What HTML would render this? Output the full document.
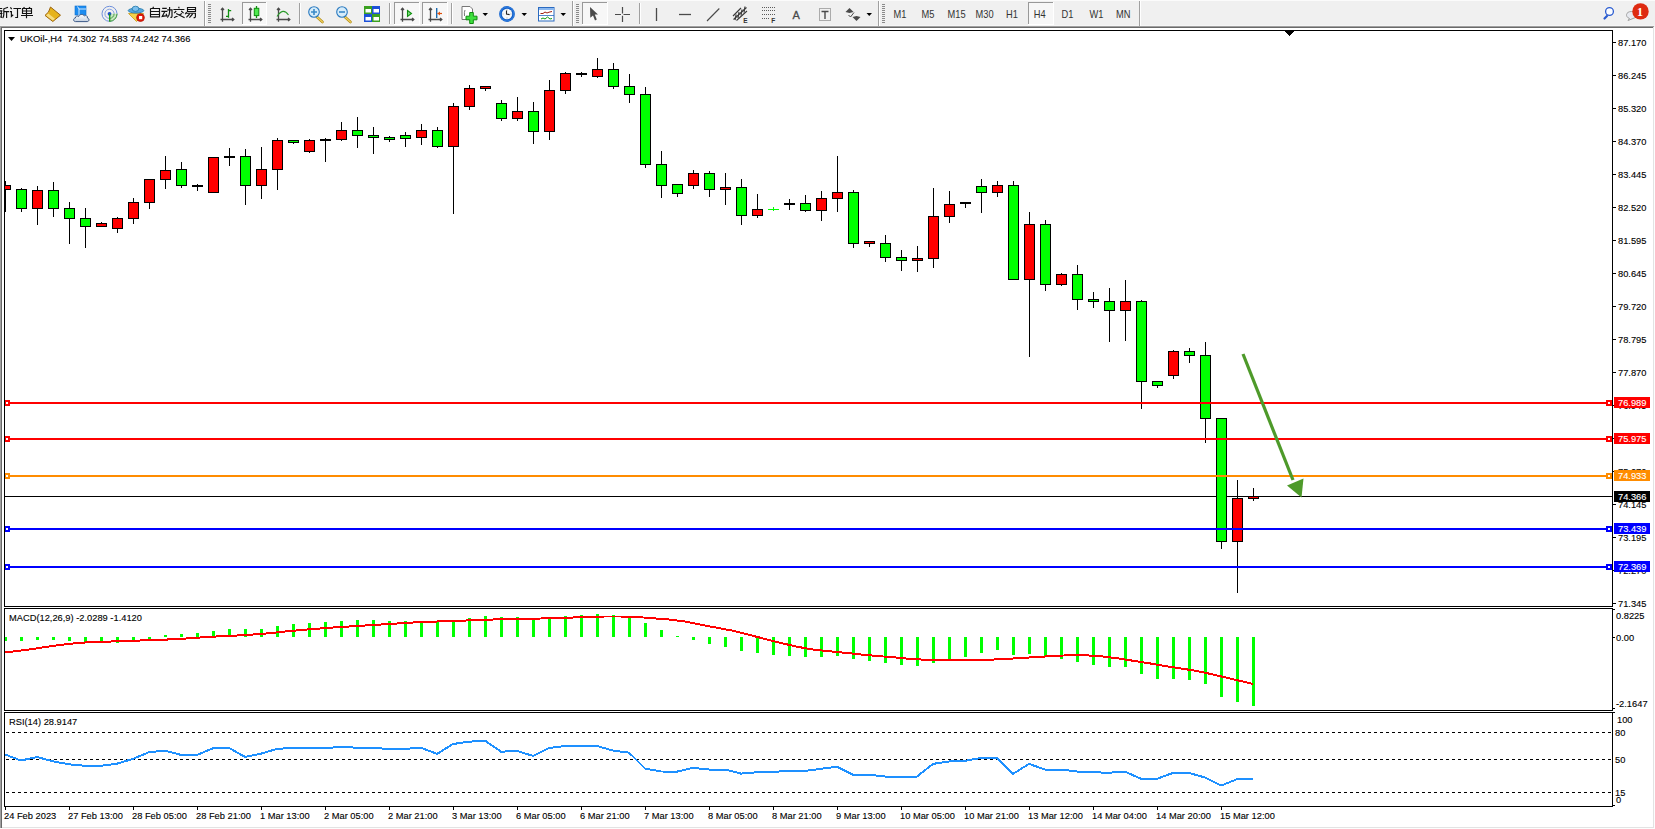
<!DOCTYPE html><html><head><meta charset="utf-8"><style>
html,body{margin:0;padding:0;width:1655px;height:829px;overflow:hidden;background:#f0f0f0;}
svg{display:block;position:absolute;left:0;top:0;}
text{font-family:"Liberation Sans",sans-serif;}
.ax{font-size:9.7px;fill:#000;stroke:#000;stroke-width:0.12px;}
</style></head><body>
<svg width="1655" height="829" viewBox="0 0 1655 829" shape-rendering="crispEdges">
<rect x="0" y="0" width="1655" height="26" fill="#f0f0f0"/>
<rect x="0" y="0" width="1655" height="1" fill="#fbfbfb"/>
<rect x="0" y="25" width="1655" height="1" fill="#f5f5f5"/>
<rect x="0" y="26" width="1654" height="1" fill="#a0a0a0"/>
<rect x="0" y="27" width="1653" height="1" fill="#696969"/>
<rect x="2" y="28" width="1651" height="799" fill="#ffffff"/>
<rect x="0" y="26" width="1" height="803" fill="#a0a0a0"/>
<rect x="1" y="27" width="1" height="801" fill="#696969"/>
<rect x="1653" y="27" width="1" height="801" fill="#e3e3e3"/>
<rect x="2" y="827" width="1652" height="1" fill="#e3e3e3"/>
<rect x="0" y="828" width="1655" height="1" fill="#fdfdfd"/>
<rect x="1654" y="27" width="1" height="802" fill="#fdfdfd"/>
<rect x="4" y="30" width="1609" height="1" fill="#000"/>
<rect x="4" y="606" width="1609" height="1" fill="#000"/>
<rect x="4" y="30" width="1" height="577" fill="#000"/>
<rect x="1612" y="30" width="1" height="577" fill="#000"/>
<defs><clipPath id="cm"><rect x="5" y="31" width="1607" height="575"/></clipPath>
<clipPath id="cmacd"><rect x="5" y="609" width="1607" height="101"/></clipPath>
<clipPath id="crsi"><rect x="5" y="713" width="1607" height="93"/></clipPath></defs>
<g clip-path="url(#cm)">
<rect x="5" y="496" width="1607" height="1" fill="#000"/>
<rect x="5" y="181" width="1" height="31"/><rect x="0" y="185" width="11" height="5"/><rect x="1" y="186" width="9" height="3" fill="#ff0000"/><rect x="21" y="188" width="1" height="24"/><rect x="16" y="189" width="11" height="20"/><rect x="17" y="190" width="9" height="18" fill="#00ff00"/><rect x="37" y="186" width="1" height="39"/><rect x="32" y="190" width="11" height="19"/><rect x="33" y="191" width="9" height="17" fill="#ff0000"/><rect x="53" y="182" width="1" height="35"/><rect x="48" y="190" width="11" height="19"/><rect x="49" y="191" width="9" height="17" fill="#00ff00"/><rect x="69" y="202" width="1" height="42"/><rect x="64" y="208" width="11" height="11"/><rect x="65" y="209" width="9" height="9" fill="#00ff00"/><rect x="85" y="208" width="1" height="40"/><rect x="80" y="218" width="11" height="9"/><rect x="81" y="219" width="9" height="7" fill="#00ff00"/><rect x="101" y="222" width="1" height="5"/><rect x="96" y="223" width="11" height="4"/><rect x="97" y="224" width="9" height="2" fill="#ff0000"/><rect x="117" y="217" width="1" height="16"/><rect x="112" y="218" width="11" height="11"/><rect x="113" y="219" width="9" height="9" fill="#ff0000"/><rect x="133" y="198" width="1" height="26"/><rect x="128" y="202" width="11" height="17"/><rect x="129" y="203" width="9" height="15" fill="#ff0000"/><rect x="149" y="179" width="1" height="30"/><rect x="144" y="179" width="11" height="24"/><rect x="145" y="180" width="9" height="22" fill="#ff0000"/><rect x="165" y="156" width="1" height="33"/><rect x="160" y="170" width="11" height="10"/><rect x="161" y="171" width="9" height="8" fill="#ff0000"/><rect x="181" y="162" width="1" height="26"/><rect x="176" y="169" width="11" height="17"/><rect x="177" y="170" width="9" height="15" fill="#00ff00"/><rect x="197" y="184" width="1" height="7"/><rect x="192" y="185" width="11" height="2"/><rect x="213" y="157" width="1" height="36"/><rect x="208" y="157" width="11" height="36"/><rect x="209" y="158" width="9" height="34" fill="#ff0000"/><rect x="229" y="148" width="1" height="18"/><rect x="224" y="156" width="11" height="2"/><rect x="245" y="149" width="1" height="56"/><rect x="240" y="156" width="11" height="30"/><rect x="241" y="157" width="9" height="28" fill="#00ff00"/><rect x="261" y="147" width="1" height="52"/><rect x="256" y="169" width="11" height="17"/><rect x="257" y="170" width="9" height="15" fill="#ff0000"/><rect x="277" y="138" width="1" height="52"/><rect x="272" y="140" width="11" height="30"/><rect x="273" y="141" width="9" height="28" fill="#ff0000"/><rect x="293" y="140" width="1" height="4"/><rect x="288" y="140" width="11" height="3"/><rect x="289" y="141" width="9" height="1" fill="#00ff00"/><rect x="309" y="139" width="1" height="14"/><rect x="304" y="140" width="11" height="12"/><rect x="305" y="141" width="9" height="10" fill="#ff0000"/><rect x="325" y="138" width="1" height="24"/><rect x="320" y="139" width="11" height="2"/><rect x="341" y="122" width="1" height="19"/><rect x="336" y="130" width="11" height="10"/><rect x="337" y="131" width="9" height="8" fill="#ff0000"/><rect x="357" y="117" width="1" height="31"/><rect x="352" y="130" width="11" height="6"/><rect x="353" y="131" width="9" height="4" fill="#00ff00"/><rect x="373" y="127" width="1" height="27"/><rect x="368" y="135" width="11" height="3"/><rect x="369" y="136" width="9" height="1" fill="#00ff00"/><rect x="389" y="136" width="1" height="6"/><rect x="384" y="137" width="11" height="3"/><rect x="385" y="138" width="9" height="1" fill="#00ff00"/><rect x="405" y="132" width="1" height="15"/><rect x="400" y="135" width="11" height="4"/><rect x="401" y="136" width="9" height="2" fill="#00ff00"/><rect x="421" y="124" width="1" height="21"/><rect x="416" y="130" width="11" height="8"/><rect x="417" y="131" width="9" height="6" fill="#ff0000"/><rect x="437" y="127" width="1" height="21"/><rect x="432" y="130" width="11" height="17"/><rect x="433" y="131" width="9" height="15" fill="#00ff00"/><rect x="453" y="103" width="1" height="111"/><rect x="448" y="106" width="11" height="41"/><rect x="449" y="107" width="9" height="39" fill="#ff0000"/><rect x="469" y="85" width="1" height="25"/><rect x="464" y="88" width="11" height="19"/><rect x="465" y="89" width="9" height="17" fill="#ff0000"/><rect x="485" y="86" width="1" height="5"/><rect x="480" y="86" width="11" height="3"/><rect x="481" y="87" width="9" height="1" fill="#ff0000"/><rect x="501" y="100" width="1" height="21"/><rect x="496" y="103" width="11" height="16"/><rect x="497" y="104" width="9" height="14" fill="#00ff00"/><rect x="517" y="97" width="1" height="24"/><rect x="512" y="111" width="11" height="8"/><rect x="513" y="112" width="9" height="6" fill="#ff0000"/><rect x="533" y="102" width="1" height="42"/><rect x="528" y="111" width="11" height="21"/><rect x="529" y="112" width="9" height="19" fill="#00ff00"/><rect x="549" y="80" width="1" height="60"/><rect x="544" y="90" width="11" height="42"/><rect x="545" y="91" width="9" height="40" fill="#ff0000"/><rect x="565" y="72" width="1" height="22"/><rect x="560" y="73" width="11" height="18"/><rect x="561" y="74" width="9" height="16" fill="#ff0000"/><rect x="581" y="72" width="1" height="5"/><rect x="576" y="73" width="11" height="2"/><rect x="597" y="58" width="1" height="20"/><rect x="592" y="69" width="11" height="8"/><rect x="593" y="70" width="9" height="6" fill="#ff0000"/><rect x="613" y="63" width="1" height="26"/><rect x="608" y="69" width="11" height="18"/><rect x="609" y="70" width="9" height="16" fill="#00ff00"/><rect x="629" y="74" width="1" height="29"/><rect x="624" y="86" width="11" height="9"/><rect x="625" y="87" width="9" height="7" fill="#00ff00"/><rect x="645" y="87" width="1" height="81"/><rect x="640" y="94" width="11" height="71"/><rect x="641" y="95" width="9" height="69" fill="#00ff00"/><rect x="661" y="151" width="1" height="47"/><rect x="656" y="164" width="11" height="22"/><rect x="657" y="165" width="9" height="20" fill="#00ff00"/><rect x="677" y="184" width="1" height="13"/><rect x="672" y="184" width="11" height="10"/><rect x="673" y="185" width="9" height="8" fill="#00ff00"/><rect x="693" y="170" width="1" height="19"/><rect x="688" y="173" width="11" height="13"/><rect x="689" y="174" width="9" height="11" fill="#ff0000"/><rect x="709" y="171" width="1" height="26"/><rect x="704" y="173" width="11" height="17"/><rect x="705" y="174" width="9" height="15" fill="#00ff00"/><rect x="725" y="173" width="1" height="32"/><rect x="720" y="187" width="11" height="3"/><rect x="721" y="188" width="9" height="1" fill="#ff0000"/><rect x="741" y="179" width="1" height="46"/><rect x="736" y="187" width="11" height="29"/><rect x="737" y="188" width="9" height="27" fill="#00ff00"/><rect x="757" y="194" width="1" height="24"/><rect x="752" y="209" width="11" height="7"/><rect x="753" y="210" width="9" height="5" fill="#ff0000"/><rect x="773" y="207" width="1" height="4" fill="#00ff00"/><rect x="768" y="209" width="11" height="1" fill="#00ff00"/><rect x="789" y="199" width="1" height="11"/><rect x="784" y="203" width="11" height="2"/><rect x="805" y="195" width="1" height="17"/><rect x="800" y="203" width="11" height="8"/><rect x="801" y="204" width="9" height="6" fill="#00ff00"/><rect x="821" y="191" width="1" height="30"/><rect x="816" y="198" width="11" height="13"/><rect x="817" y="199" width="9" height="11" fill="#ff0000"/><rect x="837" y="156" width="1" height="56"/><rect x="832" y="192" width="11" height="7"/><rect x="833" y="193" width="9" height="5" fill="#ff0000"/><rect x="853" y="190" width="1" height="58"/><rect x="848" y="192" width="11" height="52"/><rect x="849" y="193" width="9" height="50" fill="#00ff00"/><rect x="869" y="241" width="1" height="6"/><rect x="864" y="241" width="11" height="3"/><rect x="865" y="242" width="9" height="1" fill="#ff0000"/><rect x="885" y="235" width="1" height="27"/><rect x="880" y="243" width="11" height="15"/><rect x="881" y="244" width="9" height="13" fill="#00ff00"/><rect x="901" y="250" width="1" height="21"/><rect x="896" y="257" width="11" height="4"/><rect x="897" y="258" width="9" height="2" fill="#00ff00"/><rect x="917" y="246" width="1" height="26"/><rect x="912" y="258" width="11" height="3"/><rect x="913" y="259" width="9" height="1" fill="#ff0000"/><rect x="933" y="188" width="1" height="80"/><rect x="928" y="216" width="11" height="43"/><rect x="929" y="217" width="9" height="41" fill="#ff0000"/><rect x="949" y="191" width="1" height="32"/><rect x="944" y="204" width="11" height="13"/><rect x="945" y="205" width="9" height="11" fill="#ff0000"/><rect x="965" y="202" width="1" height="6"/><rect x="960" y="202" width="11" height="2"/><rect x="981" y="179" width="1" height="34"/><rect x="976" y="186" width="11" height="7"/><rect x="977" y="187" width="9" height="5" fill="#00ff00"/><rect x="997" y="181" width="1" height="16"/><rect x="992" y="185" width="11" height="8"/><rect x="993" y="186" width="9" height="6" fill="#ff0000"/><rect x="1013" y="181" width="1" height="99"/><rect x="1008" y="185" width="11" height="95"/><rect x="1009" y="186" width="9" height="93" fill="#00ff00"/><rect x="1029" y="212" width="1" height="145"/><rect x="1024" y="224" width="11" height="56"/><rect x="1025" y="225" width="9" height="54" fill="#ff0000"/><rect x="1045" y="220" width="1" height="71"/><rect x="1040" y="224" width="11" height="61"/><rect x="1041" y="225" width="9" height="59" fill="#00ff00"/><rect x="1061" y="273" width="1" height="13"/><rect x="1056" y="274" width="11" height="11"/><rect x="1057" y="275" width="9" height="9" fill="#ff0000"/><rect x="1077" y="265" width="1" height="45"/><rect x="1072" y="274" width="11" height="26"/><rect x="1073" y="275" width="9" height="24" fill="#00ff00"/><rect x="1093" y="292" width="1" height="16"/><rect x="1088" y="299" width="11" height="3"/><rect x="1089" y="300" width="9" height="1" fill="#00ff00"/><rect x="1109" y="288" width="1" height="54"/><rect x="1104" y="301" width="11" height="10"/><rect x="1105" y="302" width="9" height="8" fill="#00ff00"/><rect x="1125" y="280" width="1" height="61"/><rect x="1120" y="301" width="11" height="10"/><rect x="1121" y="302" width="9" height="8" fill="#ff0000"/><rect x="1141" y="300" width="1" height="109"/><rect x="1136" y="301" width="11" height="81"/><rect x="1137" y="302" width="9" height="79" fill="#00ff00"/><rect x="1157" y="381" width="1" height="7"/><rect x="1152" y="381" width="11" height="5"/><rect x="1153" y="382" width="9" height="3" fill="#00ff00"/><rect x="1173" y="350" width="1" height="29"/><rect x="1168" y="351" width="11" height="25"/><rect x="1169" y="352" width="9" height="23" fill="#ff0000"/><rect x="1189" y="348" width="1" height="15"/><rect x="1184" y="351" width="11" height="5"/><rect x="1185" y="352" width="9" height="3" fill="#00ff00"/><rect x="1205" y="342" width="1" height="101"/><rect x="1200" y="355" width="11" height="64"/><rect x="1201" y="356" width="9" height="62" fill="#00ff00"/><rect x="1221" y="418" width="1" height="131"/><rect x="1216" y="418" width="11" height="124"/><rect x="1217" y="419" width="9" height="122" fill="#00ff00"/><rect x="1237" y="480" width="1" height="113"/><rect x="1232" y="498" width="11" height="44"/><rect x="1233" y="499" width="9" height="42" fill="#ff0000"/><rect x="1253" y="488" width="1" height="13"/><rect x="1248" y="496" width="11" height="3"/><rect x="1249" y="497" width="9" height="1" fill="#ff0000"/>
<rect x="5" y="402" width="1607" height="2" fill="#ff0000"/>
<rect x="5" y="438" width="1607" height="2" fill="#ff0000"/>
<rect x="5" y="475" width="1607" height="2" fill="#ff8c00"/>
<rect x="5" y="528" width="1607" height="2" fill="#0000ff"/>
<rect x="5" y="566" width="1607" height="2" fill="#0000ff"/>
<rect x="4" y="400" width="6" height="6" fill="#ff0000"/><rect x="6" y="402" width="2" height="2" fill="#fff"/>
<rect x="1606" y="400" width="6" height="6" fill="#ff0000"/><rect x="1608" y="402" width="2" height="2" fill="#fff"/>
<rect x="4" y="436" width="6" height="6" fill="#ff0000"/><rect x="6" y="438" width="2" height="2" fill="#fff"/>
<rect x="1606" y="436" width="6" height="6" fill="#ff0000"/><rect x="1608" y="438" width="2" height="2" fill="#fff"/>
<rect x="4" y="473" width="6" height="6" fill="#ff8c00"/><rect x="6" y="475" width="2" height="2" fill="#fff"/>
<rect x="1606" y="473" width="6" height="6" fill="#ff8c00"/><rect x="1608" y="475" width="2" height="2" fill="#fff"/>
<rect x="4" y="526" width="6" height="6" fill="#0000ff"/><rect x="6" y="528" width="2" height="2" fill="#fff"/>
<rect x="1606" y="526" width="6" height="6" fill="#0000ff"/><rect x="1608" y="528" width="2" height="2" fill="#fff"/>
<rect x="4" y="564" width="6" height="6" fill="#0000ff"/><rect x="6" y="566" width="2" height="2" fill="#fff"/>
<rect x="1606" y="564" width="6" height="6" fill="#0000ff"/><rect x="1608" y="566" width="2" height="2" fill="#fff"/>
<g shape-rendering="auto"><line x1="1243" y1="354" x2="1293" y2="480" stroke="#4e9a2a" stroke-width="3.2"/>
<polygon points="1287,485.5 1303.5,478.5 1301.5,497.5" fill="#4e9a2a"/></g>
<polygon points="1284.5,30.5 1294.5,30.5 1289.5,36.2" fill="#000"/>
</g>
<polygon points="8,37 15,37 11.5,41" fill="#000" shape-rendering="auto"/>
<text transform="translate(20 42) scale(0.97 1)" class="ax">UKOil-,H4 &#160;74.302 74.583 74.242 74.366</text>
<rect x="1612" y="42" width="4" height="1" fill="#000"/>
<text transform="translate(1618 46) scale(0.96 1)" class="ax">87.170</text>
<rect x="1612" y="75" width="4" height="1" fill="#000"/>
<text transform="translate(1618 79) scale(0.96 1)" class="ax">86.245</text>
<rect x="1612" y="108" width="4" height="1" fill="#000"/>
<text transform="translate(1618 112) scale(0.96 1)" class="ax">85.320</text>
<rect x="1612" y="141" width="4" height="1" fill="#000"/>
<text transform="translate(1618 145) scale(0.96 1)" class="ax">84.370</text>
<rect x="1612" y="174" width="4" height="1" fill="#000"/>
<text transform="translate(1618 178) scale(0.96 1)" class="ax">83.445</text>
<rect x="1612" y="207" width="4" height="1" fill="#000"/>
<text transform="translate(1618 211) scale(0.96 1)" class="ax">82.520</text>
<rect x="1612" y="240" width="4" height="1" fill="#000"/>
<text transform="translate(1618 244) scale(0.96 1)" class="ax">81.595</text>
<rect x="1612" y="273" width="4" height="1" fill="#000"/>
<text transform="translate(1618 277) scale(0.96 1)" class="ax">80.645</text>
<rect x="1612" y="306" width="4" height="1" fill="#000"/>
<text transform="translate(1618 310) scale(0.96 1)" class="ax">79.720</text>
<rect x="1612" y="339" width="4" height="1" fill="#000"/>
<text transform="translate(1618 343) scale(0.96 1)" class="ax">78.795</text>
<rect x="1612" y="372" width="4" height="1" fill="#000"/>
<text transform="translate(1618 376) scale(0.96 1)" class="ax">77.870</text>
<rect x="1612" y="405" width="4" height="1" fill="#000"/>
<text transform="translate(1618 409) scale(0.96 1)" class="ax">76.945</text>
<rect x="1612" y="438" width="4" height="1" fill="#000"/>
<text transform="translate(1618 442) scale(0.96 1)" class="ax">75.995</text>
<rect x="1612" y="471" width="4" height="1" fill="#000"/>
<text transform="translate(1618 475) scale(0.96 1)" class="ax">75.070</text>
<rect x="1612" y="504" width="4" height="1" fill="#000"/>
<text transform="translate(1618 508) scale(0.96 1)" class="ax">74.145</text>
<rect x="1612" y="537" width="4" height="1" fill="#000"/>
<text transform="translate(1618 541) scale(0.96 1)" class="ax">73.195</text>
<rect x="1612" y="570" width="4" height="1" fill="#000"/>
<text transform="translate(1618 574) scale(0.96 1)" class="ax">72.270</text>
<rect x="1612" y="603" width="4" height="1" fill="#000"/>
<text transform="translate(1618 607) scale(0.96 1)" class="ax">71.345</text>
<rect x="1614" y="397" width="36" height="11" fill="#ff0000"/>
<text transform="translate(1618 406) scale(0.96 1)" class="ax" style="fill:#fff;stroke:#fff">76.989</text>
<rect x="1614" y="433" width="36" height="11" fill="#ff0000"/>
<text transform="translate(1618 442) scale(0.96 1)" class="ax" style="fill:#fff;stroke:#fff">75.975</text>
<rect x="1614" y="470" width="36" height="11" fill="#ff8c00"/>
<text transform="translate(1618 479) scale(0.96 1)" class="ax" style="fill:#fff;stroke:#fff">74.933</text>
<rect x="1614" y="523" width="36" height="11" fill="#0000ff"/>
<text transform="translate(1618 532) scale(0.96 1)" class="ax" style="fill:#fff;stroke:#fff">73.439</text>
<rect x="1614" y="561" width="36" height="11" fill="#0000ff"/>
<text transform="translate(1618 570) scale(0.96 1)" class="ax" style="fill:#fff;stroke:#fff">72.369</text>
<rect x="1614" y="491" width="36" height="11" fill="#000"/>
<text transform="translate(1618 500) scale(0.96 1)" class="ax" style="fill:#fff;stroke:#fff">74.366</text>
<rect x="4" y="608" width="1609" height="1" fill="#000"/>
<rect x="4" y="710" width="1609" height="1" fill="#000"/>
<rect x="4" y="608" width="1" height="103" fill="#000"/>
<rect x="1612" y="608" width="1" height="103" fill="#000"/>
<g clip-path="url(#cmacd)">
<g fill="#00ff00"><rect x="4" y="637" width="3" height="4"/><rect x="20" y="637" width="3" height="4"/><rect x="36" y="637" width="3" height="3"/><rect x="52" y="637" width="3" height="3"/><rect x="68" y="637" width="3" height="4"/><rect x="84" y="637" width="3" height="5"/><rect x="100" y="637" width="3" height="6"/><rect x="116" y="637" width="3" height="6"/><rect x="132" y="637" width="3" height="5"/><rect x="148" y="637" width="3" height="2"/><rect x="164" y="635" width="3" height="2"/><rect x="180" y="634" width="3" height="3"/><rect x="196" y="633" width="3" height="4"/><rect x="212" y="631" width="3" height="6"/><rect x="228" y="629" width="3" height="8"/><rect x="244" y="629" width="3" height="8"/><rect x="260" y="629" width="3" height="8"/><rect x="276" y="626" width="3" height="11"/><rect x="292" y="624" width="3" height="13"/><rect x="308" y="623" width="3" height="14"/><rect x="324" y="622" width="3" height="15"/><rect x="340" y="621" width="3" height="16"/><rect x="356" y="620" width="3" height="17"/><rect x="372" y="620" width="3" height="17"/><rect x="388" y="621" width="3" height="16"/><rect x="404" y="621" width="3" height="16"/><rect x="420" y="621" width="3" height="16"/><rect x="436" y="621" width="3" height="16"/><rect x="452" y="621" width="3" height="16"/><rect x="468" y="618" width="3" height="19"/><rect x="484" y="616" width="3" height="21"/><rect x="500" y="617" width="3" height="20"/><rect x="516" y="617" width="3" height="20"/><rect x="532" y="619" width="3" height="18"/><rect x="548" y="619" width="3" height="18"/><rect x="564" y="616" width="3" height="21"/><rect x="580" y="615" width="3" height="22"/><rect x="596" y="614" width="3" height="23"/><rect x="612" y="615" width="3" height="22"/><rect x="628" y="617" width="3" height="20"/><rect x="644" y="623" width="3" height="14"/><rect x="660" y="630" width="3" height="7"/><rect x="676" y="636" width="3" height="1"/><rect x="692" y="637" width="3" height="3"/><rect x="708" y="637" width="3" height="7"/><rect x="724" y="637" width="3" height="10"/><rect x="740" y="637" width="3" height="14"/><rect x="756" y="637" width="3" height="16"/><rect x="772" y="637" width="3" height="18"/><rect x="788" y="637" width="3" height="19"/><rect x="804" y="637" width="3" height="20"/><rect x="820" y="637" width="3" height="20"/><rect x="836" y="637" width="3" height="19"/><rect x="852" y="637" width="3" height="22"/><rect x="868" y="637" width="3" height="24"/><rect x="884" y="637" width="3" height="26"/><rect x="900" y="637" width="3" height="28"/><rect x="916" y="637" width="3" height="29"/><rect x="932" y="637" width="3" height="26"/><rect x="948" y="637" width="3" height="23"/><rect x="964" y="637" width="3" height="20"/><rect x="980" y="637" width="3" height="16"/><rect x="996" y="637" width="3" height="13"/><rect x="1012" y="637" width="3" height="18"/><rect x="1028" y="637" width="3" height="17"/><rect x="1044" y="637" width="3" height="19"/><rect x="1060" y="637" width="3" height="22"/><rect x="1076" y="637" width="3" height="25"/><rect x="1092" y="637" width="3" height="28"/><rect x="1108" y="637" width="3" height="30"/><rect x="1124" y="637" width="3" height="30"/><rect x="1140" y="637" width="3" height="37"/><rect x="1156" y="637" width="3" height="42"/><rect x="1172" y="637" width="3" height="42"/><rect x="1188" y="637" width="3" height="43"/><rect x="1204" y="637" width="3" height="47"/><rect x="1220" y="637" width="3" height="60"/><rect x="1236" y="637" width="3" height="65"/><rect x="1252" y="637" width="3" height="69"/></g>
<polyline points="5,652.2 13,651.50 29,649.55 45,647.05 61,644.80 77,643.05 93,641.95 109,641.55 125,641.20 141,640.45 157,639.90 173,639.30 189,638.30 205,637.15 221,636.25 237,635.50 253,634.50 269,633.25 285,631.50 301,630.00 317,628.75 333,627.50 349,626.50 365,625.50 381,624.50 397,623.50 413,622.50 429,621.75 445,621.25 461,620.75 477,620.00 493,619.50 509,619.25 525,618.75 541,618.50 557,618.25 573,617.50 589,616.75 605,616.50 621,616.50 637,617.00 653,618.25 669,619.50 685,621.50 701,624.75 717,627.75 733,630.75 749,634.75 765,639.00 781,643.00 797,646.75 813,649.50 829,651.25 845,652.75 861,654.50 877,656.00 893,657.25 909,658.75 925,659.75 941,660.00 957,660.00 973,660.00 989,659.75 1005,659.00 1021,658.00 1037,657.00 1053,656.00 1069,655.25 1085,655.25 1101,656.25 1117,658.25 1133,660.75 1149,663.25 1165,666.00 1181,668.50 1197,671.00 1213,674.50 1229,678.25 1245,682.00 1253,684" fill="none" stroke="#ff0000" stroke-width="2"/>
</g>
<text transform="translate(9 621) scale(0.96 1)" class="ax">MACD(12,26,9) -2.0289 -1.4120</text>
<rect x="1612" y="637" width="3" height="1" fill="#000"/>
<rect x="1612" y="609" width="3" height="1" fill="#000"/>
<rect x="1612" y="708" width="3" height="1" fill="#000"/>
<text transform="translate(1616 619) scale(0.96 1)" class="ax">0.8225</text>
<text transform="translate(1616 641) scale(0.96 1)" class="ax">0.00</text>
<text transform="translate(1616 707) scale(0.96 1)" class="ax">-2.1647</text>
<rect x="4" y="712" width="1609" height="1" fill="#000"/>
<rect x="4" y="806" width="1609" height="1" fill="#000"/>
<rect x="4" y="712" width="1" height="95" fill="#000"/>
<rect x="1612" y="712" width="1" height="95" fill="#000"/>
<g clip-path="url(#crsi)">
<line x1="6" y1="732.5" x2="1612" y2="732.5" stroke="#000" stroke-width="1" stroke-dasharray="3,3"/>
<line x1="6" y1="759.5" x2="1612" y2="759.5" stroke="#000" stroke-width="1" stroke-dasharray="3,3"/>
<line x1="6" y1="792.5" x2="1612" y2="792.5" stroke="#000" stroke-width="1" stroke-dasharray="3,3"/>
<polyline points="5,754.5 21,760.5 37,757 53,761.3 69,764.3 85,765.8 101,765.8 117,763.7 133,758.8 149,752.2 165,750.7 181,754.9 197,754.9 213,748.3 229,747.9 245,756.9 261,753.7 277,748.9 293,747.9 309,748 325,748 341,747 357,747.7 373,748 389,748.9 405,748.9 421,747.7 437,753.9 453,744 469,741.7 485,740.6 501,751.7 517,750.9 533,755.9 549,748 565,746 581,746 597,746 613,750.6 629,752.6 645,768.5 661,771.5 677,771.6 693,767.9 709,769.5 725,769.5 741,773.6 757,772.3 773,771.9 789,770.9 805,770.9 821,768.8 837,766.8 853,774.8 869,774.8 885,776.5 901,776.5 917,776.5 933,763.9 949,761.5 965,760.8 981,758 997,758 1013,773.9 1029,763.9 1045,769.5 1061,769.5 1077,771.5 1093,772.3 1109,772.7 1125,771.6 1141,778.8 1157,778.8 1173,772.9 1189,772.9 1205,777.5 1221,785.6 1237,779.2 1253,778.8" fill="none" stroke="#1e90ff" stroke-width="2"/>
</g>
<text transform="translate(9 725) scale(0.96 1)" class="ax">RSI(14) 28.9147</text>
<text transform="translate(1617 723) scale(0.96 1)" class="ax">100</text>
<text transform="translate(1615 736) scale(0.96 1)" class="ax">80</text>
<text transform="translate(1615 763) scale(0.96 1)" class="ax">50</text>
<text transform="translate(1615 796) scale(0.96 1)" class="ax">15</text>
<text transform="translate(1616 803) scale(0.96 1)" class="ax">0</text>
<rect x="1612" y="712" width="3" height="1" fill="#000"/>
<rect x="1612" y="805" width="3" height="1" fill="#000"/>
<rect x="5" y="807" width="1" height="3" fill="#000"/>
<text transform="translate(4 819) scale(0.96 1)" class="ax">24 Feb 2023</text>
<rect x="69" y="807" width="1" height="3" fill="#000"/>
<text transform="translate(68 819) scale(0.96 1)" class="ax">27 Feb 13:00</text>
<rect x="133" y="807" width="1" height="3" fill="#000"/>
<text transform="translate(132 819) scale(0.96 1)" class="ax">28 Feb 05:00</text>
<rect x="197" y="807" width="1" height="3" fill="#000"/>
<text transform="translate(196 819) scale(0.96 1)" class="ax">28 Feb 21:00</text>
<rect x="261" y="807" width="1" height="3" fill="#000"/>
<text transform="translate(260 819) scale(0.96 1)" class="ax">1 Mar 13:00</text>
<rect x="325" y="807" width="1" height="3" fill="#000"/>
<text transform="translate(324 819) scale(0.96 1)" class="ax">2 Mar 05:00</text>
<rect x="389" y="807" width="1" height="3" fill="#000"/>
<text transform="translate(388 819) scale(0.96 1)" class="ax">2 Mar 21:00</text>
<rect x="453" y="807" width="1" height="3" fill="#000"/>
<text transform="translate(452 819) scale(0.96 1)" class="ax">3 Mar 13:00</text>
<rect x="517" y="807" width="1" height="3" fill="#000"/>
<text transform="translate(516 819) scale(0.96 1)" class="ax">6 Mar 05:00</text>
<rect x="581" y="807" width="1" height="3" fill="#000"/>
<text transform="translate(580 819) scale(0.96 1)" class="ax">6 Mar 21:00</text>
<rect x="645" y="807" width="1" height="3" fill="#000"/>
<text transform="translate(644 819) scale(0.96 1)" class="ax">7 Mar 13:00</text>
<rect x="709" y="807" width="1" height="3" fill="#000"/>
<text transform="translate(708 819) scale(0.96 1)" class="ax">8 Mar 05:00</text>
<rect x="773" y="807" width="1" height="3" fill="#000"/>
<text transform="translate(772 819) scale(0.96 1)" class="ax">8 Mar 21:00</text>
<rect x="837" y="807" width="1" height="3" fill="#000"/>
<text transform="translate(836 819) scale(0.96 1)" class="ax">9 Mar 13:00</text>
<rect x="901" y="807" width="1" height="3" fill="#000"/>
<text transform="translate(900 819) scale(0.96 1)" class="ax">10 Mar 05:00</text>
<rect x="965" y="807" width="1" height="3" fill="#000"/>
<text transform="translate(964 819) scale(0.96 1)" class="ax">10 Mar 21:00</text>
<rect x="1029" y="807" width="1" height="3" fill="#000"/>
<text transform="translate(1028 819) scale(0.96 1)" class="ax">13 Mar 12:00</text>
<rect x="1093" y="807" width="1" height="3" fill="#000"/>
<text transform="translate(1092 819) scale(0.96 1)" class="ax">14 Mar 04:00</text>
<rect x="1157" y="807" width="1" height="3" fill="#000"/>
<text transform="translate(1156 819) scale(0.96 1)" class="ax">14 Mar 20:00</text>
<rect x="1221" y="807" width="1" height="3" fill="#000"/>
<text transform="translate(1220 819) scale(0.96 1)" class="ax">15 Mar 12:00</text>
<g id="toolbar" shape-rendering="auto">
<!-- left: new order text -->
<g stroke="#111" stroke-width="1.15" fill="none" stroke-linecap="butt">
<path d="M0,8.5 H2.2 M0,10.8 H2.4 M0,13.5 H2.4 M1.3,11 V18 M0.3,16.5 L-0.5,17.5"/>
<path d="M8,7.2 L3.8,8.8 V14.5 Q3.8,16.8 2.6,18 M3.8,11.6 H9 M6.6,11.6 V18"/>
<path d="M10.4,7.4 L11.7,9.2 M9.8,11.6 H11.4 V16.4 L13.2,14.8"/>
<path d="M13.4,8.5 H21 M17.5,8.5 V17.5 L15.2,17.5"/>
<path d="M23.6,7.1 L24.6,8.3 M30,7.1 L28.9,8.3 M22.5,8.5 H31.5 V13.5 H22.5 Z M22.5,11 H31.5 M26.5,8.5 V18.2 M21,15.5 H33"/>
</g>
<!-- yellow book -->
<polygon points="50.5,7 60.5,15.2 52.8,21.5 45,15.4 48.5,12" fill="#e6b31c" stroke="#9c6510" stroke-width="1"/>
<polygon points="46,15.6 52.8,20.5 55,18.8 48.2,13.6" fill="#f6dc80"/>
<!-- blue box + cloud -->
<rect x="75" y="6" width="11" height="9" fill="#1c8cf0" stroke="#1070d0" stroke-width="0.6"/>
<path d="M77.5,6.5 L79,9 L79,15 M79,9 L86,9" stroke="#e8f4ff" stroke-width="0.9" fill="none"/>
<defs><linearGradient id="cg" x1="0" y1="0" x2="0" y2="1"><stop offset="0" stop-color="#ffffff"/><stop offset="1" stop-color="#c4d0e0"/></linearGradient></defs>
<path d="M75.5,21.6 C73.2,21.6 72.8,18.3 75.4,18 C75.2,16.2 77.6,15.4 78.6,16.6 C79,14.2 83.4,13.6 84.4,16 C85.6,15 88,15.8 87.4,18 C89.6,18.4 89.4,21.6 87.2,21.6 Z" fill="url(#cg)" stroke="#3c5a88" stroke-width="1"/>
<!-- signal icon -->
<circle cx="109.5" cy="13.8" r="7.5" fill="none" stroke="#6f90dc" stroke-width="1"/>
<circle cx="109.5" cy="13.8" r="4.6" fill="none" stroke="#86a2e2" stroke-width="1"/>
<path d="M109.5,13.8 L117.3,13.8 A7.8,7.8 0 0 1 109.5,21.6 Z" fill="#c8e6c0"/>
<path d="M117,13.8 A7.5,7.5 0 0 1 109.5,21.3" fill="none" stroke="#3c9a3c" stroke-width="1"/>
<path d="M114.1,13.8 A4.6,4.6 0 0 1 109.5,18.4" fill="none" stroke="#4aa04a" stroke-width="1"/>
<circle cx="109.5" cy="13.8" r="1.9" fill="#1f4fcf"/>
<rect x="109" y="13.8" width="1.4" height="7.8" fill="#1e9a1e"/>
<!-- EA hat icon -->
<polygon points="128.5,13.5 143.5,13.5 136.5,21.5" fill="#f4d24a" stroke="#c89a18" stroke-width="0.8"/>
<ellipse cx="136" cy="10.6" rx="7.8" ry="2.4" fill="#58a8e0" stroke="#1d76a8" stroke-width="0.8"/>
<ellipse cx="135.5" cy="8.8" rx="3.4" ry="2.6" fill="#7cc0ee" stroke="#1d76a8" stroke-width="0.8"/>
<circle cx="140.5" cy="17.6" r="3.9" fill="#e01a0a" stroke="#b01000" stroke-width="0.7"/>
<rect x="139" y="16" width="3.2" height="3.2" fill="#fff"/>
<g stroke="#111" stroke-width="1.15" fill="none" stroke-linecap="butt">
<path d="M153.5,6.8 L152.8,8.5 M150.5,8.5 H159.5 V17.5 M150.5,8.5 V17.5 M150.5,11.5 H159.5 M150.5,14.5 H159.5 M150.5,16.8 H159.5"/>
<path d="M162.2,8.4 H166.8 M161.4,11.4 H167.4 M164.8,11.6 L162.2,16.4 L167.2,15.6 M166,13.8 L167.4,16.4"/>
<path d="M167.2,9.8 H172 V16.2 Q172,17.6 170.4,17.3 M169.6,7 V11.8 Q169.6,15.4 167.4,17.6"/>
<path d="M178.6,6.8 L179.2,8.4 M173.4,9.5 H184.4 M176.2,11 L174.2,13.2 M181.2,11 L183.6,13.2 M182,13.4 L174,17.8 M176.2,13.4 L184.6,17.8"/>
<path d="M187.5,7.5 H195.5 V11.5 H187.5 Z M187.5,9.5 H195.5 M186.6,12.1 L185.2,14.2 M186.4,13.2 H195.4 V16.6 Q195.4,17.8 193.6,17.6 M189.6,14 L186.4,17.4 M192.6,14 L189.4,17.6"/>
</g>
<!-- band separator -->
<rect x="204" y="1" width="1" height="25" fill="#a0a0a0"/>
<rect x="205" y="1" width="1" height="25" fill="#ffffff"/>
<g fill="#8a8a8a"><rect x="208" y="4" width="3" height="1"/><rect x="208" y="6" width="3" height="1"/><rect x="208" y="8" width="3" height="1"/><rect x="208" y="10" width="3" height="1"/><rect x="208" y="12" width="3" height="1"/><rect x="208" y="14" width="3" height="1"/><rect x="208" y="16" width="3" height="1"/><rect x="208" y="18" width="3" height="1"/><rect x="208" y="20" width="3" height="1"/><rect x="208" y="22" width="3" height="1"/></g>
<!-- bar chart icon -->
<g stroke="#4a4a4a" stroke-width="1.3" fill="none">
<path d="M222.5,8.5 V21.8 M220.5,19.5 H233.5"/>
<path d="M221,10 L222.5,8.3 L224,10 M232,18 L233.8,19.5 L232,21"/>
<path d="M278.5,8.5 V21.8 M276.5,19.5 H289.5"/>
<path d="M277,10 L278.5,8.3 L280,10 M288,18 L289.8,19.5 L288,21"/>
</g>
<path d="M228.5,9 V17.8 M228.5,10.6 H231.2 M228.5,16.3 H226" stroke="#109010" stroke-width="1.3" fill="none"/>
<!-- candle pressed button -->
<rect x="242" y="2" width="25" height="23" fill="#fff"/>
<rect x="243" y="3" width="23" height="21" fill="#f7f7f7"/>
<rect x="242" y="2" width="24" height="1" fill="#999"/>
<rect x="242" y="2" width="1" height="22" fill="#999"/>
<g stroke="#4a4a4a" stroke-width="1.3" fill="none">
<path d="M250.5,8.5 V21.8 M248.5,19.5 H261.5"/>
<path d="M249,10 L250.5,8.3 L252,10 M260,18 L261.8,19.5 L260,21"/>
</g>
<path d="M256.5,6 V18" stroke="#109010" stroke-width="1.3"/>
<rect x="254.3" y="8.3" width="4.5" height="7.3" fill="#4ee84e" stroke="#109010" stroke-width="1"/>
<path d="M277,16.5 Q283,7 288.5,15" stroke="#2a9a2a" stroke-width="1.1" fill="none"/>
<rect x="299" y="3" width="1" height="21" fill="#a0a0a0"/>
<rect x="300" y="3" width="1" height="21" fill="#fff"/>
<!-- zoom in / out -->
<g>
<path d="M317,17 L322.5,22" stroke="#b08a10" stroke-width="2.6" stroke-linecap="round"/>
<path d="M317,17 L322.5,22" stroke="#f0d060" stroke-width="1.2" stroke-linecap="round"/>
<circle cx="314" cy="12" r="5.3" fill="#d6ecfa" stroke="#2a7ac0" stroke-width="1.1"/>
<path d="M311,12 H317 M314,9 V15" stroke="#3a8ac8" stroke-width="1.6"/>
<path d="M345,17 L350.5,22" stroke="#b08a10" stroke-width="2.6" stroke-linecap="round"/>
<path d="M345,17 L350.5,22" stroke="#f0d060" stroke-width="1.2" stroke-linecap="round"/>
<circle cx="342" cy="12" r="5.3" fill="#d6ecfa" stroke="#2a7ac0" stroke-width="1.1"/>
<path d="M339,12 H345" stroke="#3a8ac8" stroke-width="1.6"/>
</g>
<!-- tile windows -->
<rect x="364" y="6" width="8" height="8" fill="#3aa020"/>
<rect x="372" y="6" width="8" height="8" fill="#1c50d8"/>
<rect x="364" y="14" width="8" height="8" fill="#1c50d8"/>
<rect x="372" y="14" width="8" height="8" fill="#3aa020"/>
<g fill="#fff"><rect x="365.5" y="9" width="5.5" height="3.5"/><rect x="373.5" y="9" width="5.5" height="3.5"/><rect x="365.5" y="17" width="5.5" height="3.5"/><rect x="373.5" y="17" width="5.5" height="3.5"/></g>
<rect x="389" y="3" width="1" height="21" fill="#a0a0a0"/>
<rect x="390" y="3" width="1" height="21" fill="#fff"/>
<!-- autoscroll pressed -->
<rect x="394" y="2" width="26" height="23" fill="#fff"/>
<rect x="395" y="3" width="24" height="21" fill="#f7f7f7"/>
<rect x="394" y="2" width="25" height="1" fill="#999"/>
<rect x="394" y="2" width="1" height="22" fill="#999"/>
<g stroke="#4a4a4a" stroke-width="1.3" fill="none">
<path d="M402.5,8.5 V21.8 M400.5,19.5 H413.5"/>
<path d="M401,10 L402.5,8.3 L404,10 M412,18 L413.8,19.5 L412,21"/>
</g>
<polygon points="407.5,10.5 411.5,13.5 407.5,16.5" fill="#7de07d" stroke="#109010" stroke-width="1.1"/>
<!-- chart shift pressed -->
<rect x="422" y="2" width="26" height="23" fill="#fff"/>
<rect x="423" y="3" width="24" height="21" fill="#f7f7f7"/>
<rect x="422" y="2" width="25" height="1" fill="#999"/>
<rect x="422" y="2" width="1" height="22" fill="#999"/>
<g stroke="#4a4a4a" stroke-width="1.3" fill="none">
<path d="M430.5,8.5 V21.8 M428.5,19.5 H441.5"/>
<path d="M429,10 L430.5,8.3 L432,10 M440,18 L441.8,19.5 L440,21"/>
</g>
<rect x="436" y="8" width="1.4" height="10" fill="#1a6ab0"/>
<path d="M437.5,13.5 H442" stroke="#e0500a" stroke-width="1.2"/>
<polygon points="437.5,13.5 440,11.5 440,15.5" fill="#e0500a"/>
<rect x="451" y="3" width="1" height="21" fill="#a0a0a0"/>
<rect x="452" y="3" width="1" height="21" fill="#fff"/>
<!-- new chart -->
<path d="M462,6.5 H470 L472.5,9 V19.5 H462 Z" fill="#fff" stroke="#777" stroke-width="1"/>
<path d="M465,10 Q464,12 464.5,16" stroke="#555" stroke-width="0.8" fill="none"/>
<polygon points="469.7,12.5 473.3,12.5 473.3,16.2 477,16.2 477,19.8 473.3,19.8 473.3,23.5 469.7,23.5 469.7,19.8 466,19.8 466,16.2 469.7,16.2" fill="#3ee03e" stroke="#108a10" stroke-width="1"/>
<polygon points="482.5,13 488,13 485.25,16" fill="#000"/>
<!-- clock -->
<circle cx="507" cy="14" r="7.9" fill="#1560c8"/>
<circle cx="507" cy="14" r="7" fill="none" stroke="#3a8ae8" stroke-width="0.8"/>
<circle cx="507" cy="14" r="5.2" fill="#f6f8fa"/>
<g fill="#777"><rect x="506.6" y="9.6" width="0.8" height="0.8"/><rect x="506.6" y="17.6" width="0.8" height="0.8"/><rect x="502.6" y="13.6" width="0.8" height="0.8"/><rect x="510.6" y="13.6" width="0.8" height="0.8"/></g>
<path d="M506.5,10.5 V14 L509.6,14.6" stroke="#222" stroke-width="1.1" fill="none"/>
<polygon points="521.5,13 527,13 524.25,16" fill="#000"/>
<!-- template -->
<rect x="538.5" y="7.5" width="15.5" height="13.5" fill="#fff" stroke="#2a6ac0" stroke-width="1"/>
<rect x="539" y="8" width="15" height="2" fill="#8ab8f0"/>
<path d="M540.5,13.5 L543,13.5 L545,12 L547,13 L549,12.2 L552,11.5" stroke="#a02010" stroke-width="1" fill="none"/>
<path d="M539,15.5 H554" stroke="#2a6ac0" stroke-width="0.8"/>
<path d="M541,19 L543,18 L545,19 L547.5,17 L550,19 L552,18.5" stroke="#109a10" stroke-width="1" fill="none"/>
<polygon points="560.5,13 566,13 563.25,16" fill="#000"/>
<!-- band separator -->
<rect x="572" y="1" width="1" height="25" fill="#a0a0a0"/>
<rect x="573" y="1" width="1" height="25" fill="#ffffff"/>
<g fill="#8a8a8a"><rect x="576" y="4" width="3" height="1"/><rect x="576" y="6" width="3" height="1"/><rect x="576" y="8" width="3" height="1"/><rect x="576" y="10" width="3" height="1"/><rect x="576" y="12" width="3" height="1"/><rect x="576" y="14" width="3" height="1"/><rect x="576" y="16" width="3" height="1"/><rect x="576" y="18" width="3" height="1"/><rect x="576" y="20" width="3" height="1"/><rect x="576" y="22" width="3" height="1"/></g>
<!-- cursor pressed -->
<rect x="582" y="2" width="26" height="23" fill="#fff"/>
<rect x="583" y="3" width="24" height="21" fill="#f7f7f7"/>
<rect x="582" y="2" width="25" height="1" fill="#999"/>
<rect x="582" y="2" width="1" height="22" fill="#999"/>
<polygon points="590,7 598,14.5 594.8,14.5 596.8,19.5 595,20.5 593,15.5 590.3,17.8" fill="#4a4a4a"/>
<!-- crosshair -->
<path d="M615,14.5 H621 M623.5,14.5 H630 M622.5,7 V13.5 M622.5,15.8 V22" stroke="#4a4a4a" stroke-width="1.2"/>
<rect x="639" y="3" width="1" height="21" fill="#a0a0a0"/>
<rect x="640" y="3" width="1" height="21" fill="#fff"/>
<!-- vertical line -->
<path d="M656.5,8 V21" stroke="#4a4a4a" stroke-width="1.3"/>
<!-- horizontal line -->
<path d="M679,14.5 H691" stroke="#4a4a4a" stroke-width="1.3"/>
<!-- trend line -->
<path d="M707,21 L719.3,8.5" stroke="#4a4a4a" stroke-width="1.1"/>
<!-- channel E -->
<path d="M733,16 L741,8 M733.5,19.5 L746.5,7.5 M736.5,20.5 L747,11" stroke="#3a3a3a" stroke-width="1.1"/>
<path d="M735,20 L736.2,14.5 M738,18 L739,12 M741,15.5 L742,9.5 M744,12.5 L745,6.5" stroke="#3a3a3a" stroke-width="1.2"/>
<text x="743.3" y="22.5" style="font-size:6.5px;font-weight:bold;fill:#333;">E</text>
<!-- fibo F -->
<g fill="#4a4a4a">
<rect x="762" y="7" width="14" height="1" opacity="0.0"/>
</g>
<path d="M762,7.5 H776 M762,10.5 H776 M762,14.5 H776 M762,18.5 H770" stroke="#4a4a4a" stroke-width="0.9" stroke-dasharray="1,1"/>
<text x="771.2" y="22.5" style="font-size:6.5px;font-weight:bold;fill:#333;">F</text>
<!-- A -->
<text x="792.6" y="19.2" style="font-size:11px;fill:#4a4a4a;stroke:#4a4a4a;stroke-width:0.3px;">A</text>
<!-- T label -->
<rect x="819.5" y="8.5" width="11" height="12" fill="none" stroke="#555" stroke-width="0.9" stroke-dasharray="1,1"/>
<path d="M821.5,11.5 H828.5 M825,11.5 V19" stroke="#4a4a4a" stroke-width="1.4"/>
<!-- arrows -->
<polygon points="845.5,12 849.5,8 853.5,12 849.5,13" fill="#4a4a4a"/>
<polygon points="852.5,17 856.5,16 860.5,17 856.5,21" fill="#4a4a4a"/>
<path d="M848.5,15 L850.5,17 L854,12.5" stroke="#4a4a4a" stroke-width="1" fill="none"/>
<polygon points="866.5,13 872,13 869.25,16" fill="#000"/>
<!-- band separator -->
<rect x="878" y="1" width="1" height="25" fill="#a0a0a0"/>
<rect x="879" y="1" width="1" height="25" fill="#ffffff"/>
<g fill="#8a8a8a"><rect x="882" y="4" width="3" height="1"/><rect x="882" y="6" width="3" height="1"/><rect x="882" y="8" width="3" height="1"/><rect x="882" y="10" width="3" height="1"/><rect x="882" y="12" width="3" height="1"/><rect x="882" y="14" width="3" height="1"/><rect x="882" y="16" width="3" height="1"/><rect x="882" y="18" width="3" height="1"/><rect x="882" y="20" width="3" height="1"/><rect x="882" y="22" width="3" height="1"/></g>
<!-- H4 pressed -->
<rect x="1028" y="2" width="26" height="23" fill="#fff"/>
<rect x="1029" y="3" width="24" height="21" fill="#f7f7f7"/>
<rect x="1028" y="2" width="25" height="1" fill="#999"/>
<rect x="1028" y="2" width="1" height="22" fill="#999"/>
<g style="font-size:10px;fill:#333;"><text transform="translate(893.5 18) scale(0.93 1)">M1</text><text transform="translate(921.5 18) scale(0.93 1)">M5</text><text transform="translate(947.5 18) scale(0.93 1)">M15</text><text transform="translate(975.5 18) scale(0.93 1)">M30</text><text transform="translate(1006 18) scale(0.93 1)">H1</text><text transform="translate(1033.8 18) scale(0.93 1)">H4</text><text transform="translate(1061.5 18) scale(0.93 1)">D1</text><text transform="translate(1089.5 18) scale(0.93 1)">W1</text><text transform="translate(1116 18) scale(0.93 1)">MN</text></g>
<rect x="1139" y="1" width="1" height="25" fill="#a0a0a0"/>
<rect x="1140" y="1" width="1" height="25" fill="#fff"/>
<!-- search -->
<path d="M1604.5,18.5 L1607,16" stroke="#2a5bd0" stroke-width="2.2" stroke-linecap="round"/>
<circle cx="1609.5" cy="11.5" r="3.9" fill="#fafcff" stroke="#2a5bd0" stroke-width="1.3"/>
<!-- chat + badge -->
<path d="M1628,20.5 L1629.5,18.5 C1625,17 1625.5,11.5 1631.5,11.5 C1637,11.5 1638,17.5 1633,18.5 Z" fill="#e8eaf0" stroke="#999" stroke-width="0.9"/>
<circle cx="1640.5" cy="11.4" r="8.2" fill="#de2a10"/>
<text x="1637" y="16" style="font-family:'Liberation Serif',serif;font-size:12px;font-weight:bold;fill:#fff;">1</text>
</g>

</svg></body></html>
